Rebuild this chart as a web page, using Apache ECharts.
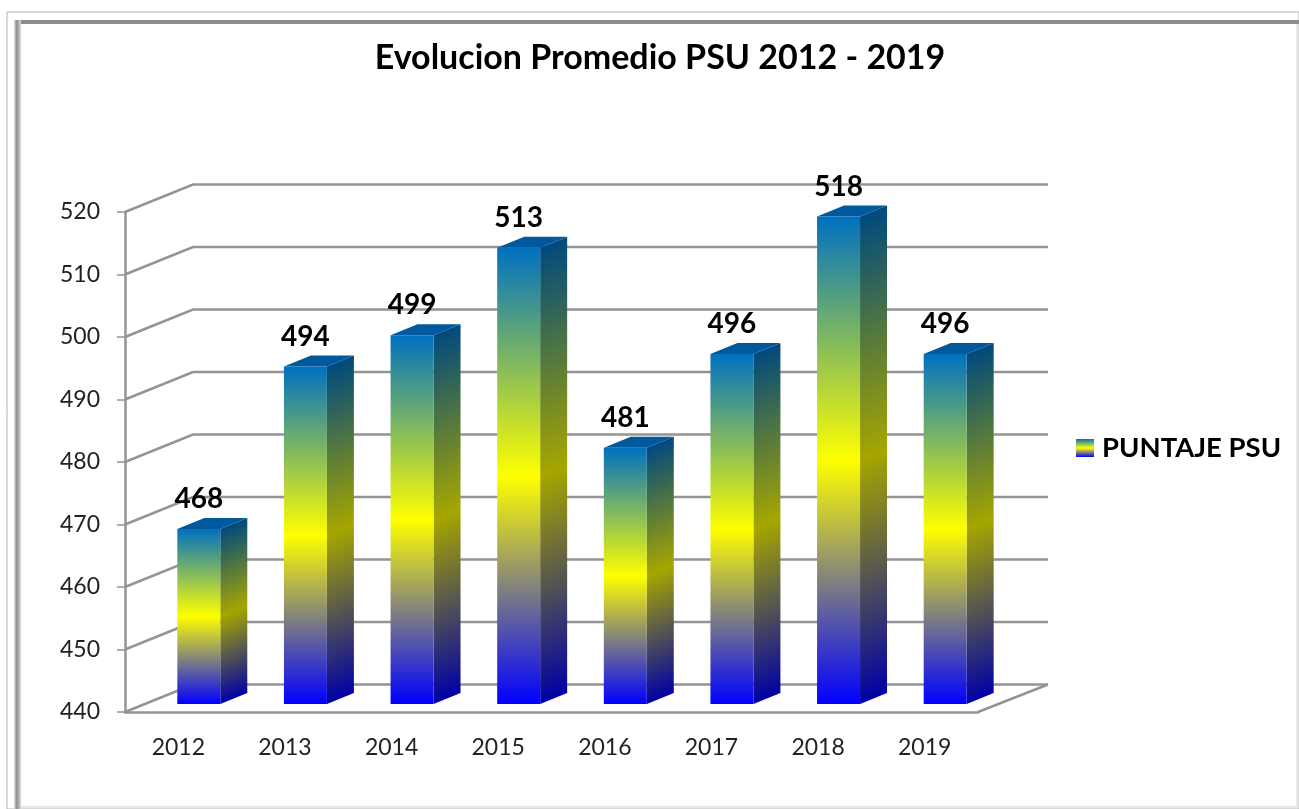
<!DOCTYPE html>
<html>
<head>
<meta charset="utf-8">
<title>Evolucion Promedio PSU</title>
<style>
	html,body{margin:0;padding:0;background:#fff}
	#chart{width:1299px;height:809px}
</style>
<script src="https://cdn.jsdelivr.net/npm/echarts@6/dist/echarts.min.js"></script>
</head>
<body>
<div id="chart"></div>
<script>
var titleText = 'Evolucion Promedio PSU 2012 - 2019'
var seriesName = 'PUNTAJE PSU'
var years = ['2012','2013','2014','2015','2016','2017','2018','2019']
var puntaje = [468,494,499,513,481,496,518,496]
var ticks = [440,450,460,470,480,490,500,510,520]

var FONT = 'Lato'
// how far the back wall sits behind the axis plane
var WALL_X = 70, WALL_Y = 27.5
// bar position inside the depth of the box
var BAR_X = 0, BAR_Y = 8, SIDE_X = 27, SIDE_Y = 11
var LINE = '#949494'

function stops(k){
	function c(r,g,b){return 'rgb('+Math.round(r*k)+','+Math.round(g*k)+','+Math.round(b*k)+')'}
	return [
		{offset:0,color:c(0,112,192)},
		{offset:0.5,color:c(255,255,0)},
		{offset:1,color:c(0,0,255)}
	]
}
function gradient(x,y,x2,y2,k,global){
	return new echarts.graphic.LinearGradient(x,y,x2,y2,stops(k),global)
}

function renderWall(params,api){
	var v = api.value(0)
	var rect = params.coordSys
	var y = api.coord([0,v])[1]
	var x0 = rect.x, x1 = rect.x+rect.width
	var line = {stroke:LINE,lineWidth:2.5,fill:null}
	var kids = [{
		type:'polyline',
		shape:{points:[[x0,y],[x0+WALL_X-2,y-WALL_Y],[x1+WALL_X,y-WALL_Y]]},
		style:line
	}]
	if(v==ticks[0]){
		kids.push({
			type:'polyline',
			shape:{points:[[x1,y],[x1+WALL_X,y-WALL_Y]]},
			style:line
		})
	}
	return {type:'group',children:kids}
}

function renderBar(params,api){
	var base = api.coord([api.value(0),ticks[0]])
	var top = api.coord([api.value(0),api.value(1)])
	var w = api.size([1,0])[0]*0.403
	var l = base[0]-1+BAR_X, r = l+w
	var b = base[1]-BAR_Y, t = top[1]-BAR_Y
	var h = b-t
	// side face colours run along the slant of the top edge
	var f = h*SIDE_X/(SIDE_Y*SIDE_Y+SIDE_X*SIDE_X)
	return {
		type:'group',
		children:[{
			type:'polygon',
			shape:{points:[[r,t],[r+SIDE_X,t-SIDE_Y],[r+SIDE_X,b-SIDE_Y],[r,b]]},
			style:{fill:gradient(r,t,r+SIDE_Y*f,t+SIDE_X*f,0.65,true)}
		},{
			type:'polygon',
			shape:{points:[[l,t],[l+SIDE_X,t-SIDE_Y],[r+SIDE_X,t-SIDE_Y],[r,t]]},
			style:{fill:'#00599c'}
		},{
			type:'rect',
			shape:{x:l,y:t,width:w,height:h},
			style:{fill:gradient(0,0,0,1,1,false)}
		},{
			type:'text',
			style:{
				text:String(api.value(1)),
				x:l+w/2,y:t-SIDE_Y-5,
				align:'center',verticalAlign:'bottom',
				font:'bold 28px '+FONT,fill:'#000'
			}
		}]
	}
}

var barData = []
for(var i=0;i<years.length;i++){
	barData.push([i,puntaje[i]])
}
var wallData = []
for(var j=0;j<ticks.length;j++){
	wallData.push([ticks[j]])
}

var option = {
	animation:false,
	backgroundColor:'#fff',
	title:{
		text:titleText,
		left:655,top:36,textAlign:'center',
		textStyle:{fontFamily:FONT,fontSize:34,fontWeight:'bold',color:'#000'}
	},
	legend:{
		data:[{name:seriesName,icon:'rect'}],
		left:1076,top:434,padding:0,
		itemWidth:18,itemHeight:18,itemGap:0,
		textStyle:{fontFamily:FONT,fontSize:27.5,fontWeight:'bold',color:'#000',padding:[0,0,0,3]}
	},
	grid:{left:125,right:321,top:212,bottom:97},
	xAxis:{
		type:'category',
		data:years,
		axisLine:{lineStyle:{color:LINE,width:2.5}},
		axisTick:{length:8,lineStyle:{color:LINE,width:1.5}},
		axisLabel:{fontFamily:FONT,fontSize:23,color:'#222',margin:24}
	},
	yAxis:{
		type:'value',
		min:440,max:520,interval:10,
		axisLine:{show:true,lineStyle:{color:LINE,width:2.5}},
		axisTick:{show:true,length:8,lineStyle:{color:LINE,width:1.5}},
		axisLabel:{fontFamily:FONT,fontSize:23,color:'#222',margin:25,padding:[8,0,0,0]},
		splitLine:{show:false}
	},
	series:[{
		name:'wall',
		type:'custom',
		z:1,
		silent:true,
		renderItem:renderWall,
		encode:{y:0},
		data:wallData
	},{
		name:seriesName,
		type:'custom',
		z:3,
		renderItem:renderBar,
		encode:{x:0,y:1},
		itemStyle:{color:gradient(0,0,0,1,1,false)},
		data:barData
	}],
	graphic:[
		{type:'rect',silent:true,shape:{x:7,y:12,width:1292,height:797},style:{fill:'#fff',stroke:'#b4b4b4',lineWidth:1},z:-10},
		{type:'rect',silent:true,shape:{x:14,y:20,width:1285,height:4},style:{fill:'#8c8c8c'},z:-9},
		{type:'rect',silent:true,shape:{x:14,y:20,width:7,height:789},style:{fill:new echarts.graphic.LinearGradient(0,0,1,0,[{offset:0,color:'#e0e0e0'},{offset:0.4,color:'#8c8c8c'},{offset:1,color:'#dcdcdc'}])},z:-9},
		{type:'rect',silent:true,shape:{x:1296,y:24,width:2,height:782},style:{fill:'#e8e8e8'},z:-9},
		{type:'rect',silent:true,shape:{x:21,y:806,width:1277,height:2},style:{fill:'#e8e8e8'},z:-9}
	]
}

var myChart = echarts.init(document.getElementById('chart'))
myChart.setOption(option)
</script>
</body>
</html>
